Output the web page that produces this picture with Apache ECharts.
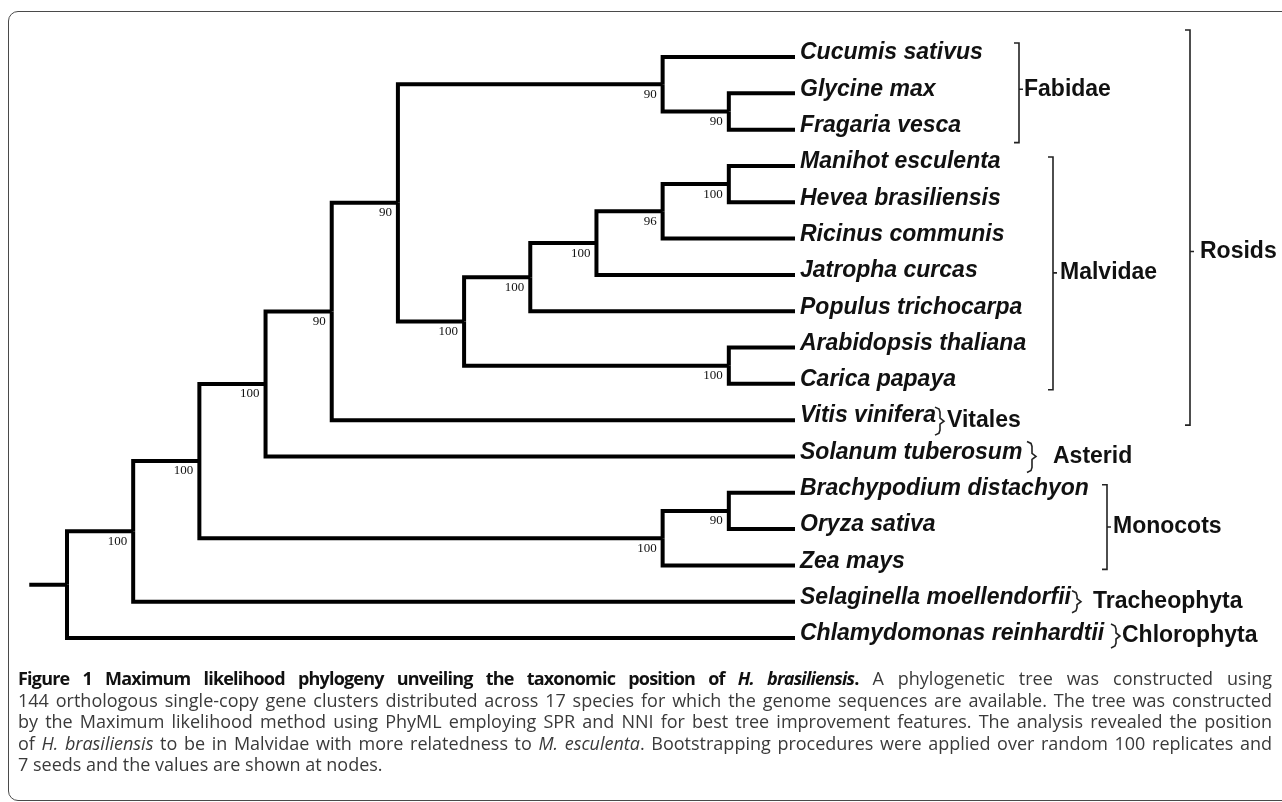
<!DOCTYPE html>
<html>
<head>
<meta charset="utf-8">
<script src="https://cdn.jsdelivr.net/npm/echarts@6/dist/echarts.min.js"></script>
<style>
html, body { margin: 0; padding: 0; background: #fff; }
#wrap { position: relative; width: 1282px; height: 802px; overflow: hidden; }
#frame { position: absolute; left: 8px; top: 11px; width: 1300px; height: 788px; border: 1.5px solid #4a4a4a; border-radius: 10px; }
#chart { position: absolute; left: 0; top: 0; width: 1282px; height: 802px; }
#caption { position: absolute; left: 18px; top: 668px; width: 1254px; font-family: 'Open Sans', sans-serif; font-size: 18px; line-height: 21.5px; color: #3a3a3a; }
#caption div { text-align: justify; text-align-last: justify; }
#caption div.last { text-align-last: left; }
#caption b { color: #111; letter-spacing: -0.8px; }
</style>
</head>
<body>
<div id="wrap">
  <div id="frame"></div>
  <div id="chart"></div>
  <div id="caption">
    <div><b>Figure 1 Maximum likelihood phylogeny unveiling the taxonomic position of <i>H. brasiliensis</i>.</b> A phylogenetic tree was constructed using</div>
    <div>144 orthologous single-copy gene clusters distributed across 17 species for which the genome sequences are available. The tree was constructed</div>
    <div>by the Maximum likelihood method using PhyML employing SPR and NNI for best tree improvement features. The analysis revealed the position</div>
    <div>of <i>H. brasiliensis</i> to be in Malvidae with more relatedness to <i>M. esculenta</i>. Bootstrapping procedures were applied over random 100 replicates and</div>
    <div class="last">7 seeds and the values are shown at nodes.</div>
  </div>
</div>
<script>
// leaves, top to bottom
const species = [
  'Cucumis sativus', 'Glycine max', 'Fragaria vesca', 'Manihot esculenta',
  'Hevea brasiliensis', 'Ricinus communis', 'Jatropha curcas', 'Populus trichocarpa',
  'Arabidopsis thaliana', 'Carica papaya', 'Vitis vinifera', 'Solanum tuberosum',
  'Brachypodium distachyon', 'Oryza sativa', 'Zea mays',
  'Selaginella moellendorfii', 'Chlamydomonas reinhardtii'
]

// internal nodes: numbers in children = species index, strings = node id
const nodeIds      = ['root', 'n1', 'n2', 'n3', 'n4', 'n5', 'n6', 'n7', 'n8', 'n9', 'n10', 'n11', 'n12', 'n13', 'n14', 'n15']
const nodeDepth    = [0, 1, 2, 3, 4, 5, 6, 7, 8, 9, 10, 9, 10, 10, 9, 10]
const nodeChildren = [
  ['n1', 16], ['n2', 15], ['n3', 'n14'], ['n4', 11], ['n5', 10], ['n11', 'n6'],
  ['n7', 'n13'], ['n8', 7], ['n9', 6], ['n10', 5], [3, 4], [0, 'n12'], [1, 2],
  [8, 9], ['n15', 14], [12, 13]
]
const nodeSupport  = [null, 100, 100, 100, 90, 90, 100, 100, 100, 96, 100, 90, 90, 100, 100, 90]
const leafDepth = 11
const rootStub = 0.57

// clade brackets on the right
const groupNames = ['Fabidae', 'Malvidae', 'Rosids', 'Vitales', 'Asterid', 'Monocots', 'Tracheophyta', 'Chlorophyta']
const groupFirst = [0, 3, 0, 10, 11, 12, 15, 16]
const groupLast  = [2, 9, 10, 10, 11, 14, 15, 16]

// drawing layout for the brackets (pixels)
const groupLayout = {
  Fabidae:      { kind: 'square', x: 1019, top: -14, bottom: 13, tick: -4, gap: 5 },
  Malvidae:     { kind: 'square', x: 1053, top: -9, bottom: 6, tick: -2, gap: 7 },
  Rosids:       { kind: 'square', x: 1190, top: -27, bottom: 5, tick: 13, gap: 10 },
  Vitales:      { kind: 'brace', x: 940, top: -13, bottom: 15, tick: 1, gap: 7 },
  Asterid:      { kind: 'brace', x: 1032, top: -15, bottom: 16, tick: 0, gap: 21 },
  Monocots:     { kind: 'square', x: 1107, top: -8, bottom: 4, tick: -2, gap: 6 },
  Tracheophyta: { kind: 'brace', x: 1077, top: -11, bottom: 11, tick: 0, gap: 16 },
  Chlorophyta:  { kind: 'brace', x: 1116, top: -14, bottom: 10, tick: -2, gap: 6 }
}

// work out node y (leaf index units) from the children
const nodeY = {}
const yOf = (c) => {
  if (typeof c === 'number') return c
  if (nodeY[c] !== undefined) return nodeY[c]
  const k = nodeIds.indexOf(c)
  const ch = nodeChildren[k]
  nodeY[c] = (yOf(ch[0]) + yOf(ch[ch.length - 1])) / 2
  return nodeY[c]
}
const depthOf = (c) => typeof c === 'number' ? leafDepth : nodeDepth[nodeIds.indexOf(c)]

const edges = []
nodeIds.forEach((id, k) => {
  nodeChildren[k].forEach(c => {
    edges.push([nodeDepth[k], yOf(id), depthOf(c), yOf(c)])
  })
})
edges.push([-rootStub, yOf('root'), 0, yOf('root')])

const leafPoints = species.map((s, i) => [leafDepth, i, s])
const supportPoints = nodeIds
  .map((id, k) => [nodeDepth[k], yOf(id), nodeSupport[k]])
  .filter(p => p[2] !== null)
const groupData = groupNames.map((g, i) => [groupFirst[i], groupLast[i], i])

const chart = echarts.init(document.getElementById('chart'))

const option = {
  animation: false,
  grid: { left: 67, top: 57, width: 728, height: 581 },
  xAxis: { type: 'value', min: 0, max: leafDepth, show: false },
  yAxis: { type: 'value', min: 0, max: 16, inverse: true, show: false },
  series: [
    {
      type: 'custom',
      name: 'branches',
      silent: true,
      data: edges,
      encode: { x: [0, 2], y: [1, 3] },
      renderItem: (params, api) => {
        const p0 = api.coord([api.value(0), api.value(1)])
        const p1 = api.coord([api.value(0), api.value(3)])
        const p2 = api.coord([api.value(2), api.value(3)])
        return {
          type: 'polyline',
          shape: { points: [p0, p1, p2] },
          style: { stroke: '#000', lineWidth: 4, fill: null, lineJoin: 'miter' }
        }
      }
    },
    {
      type: 'scatter',
      name: 'species',
      silent: true,
      symbolSize: 0,
      itemStyle: { opacity: 1 },
      data: leafPoints,
      label: {
        show: true,
        position: 'right',
        distance: 5,
        offset: [0, -4],
        formatter: p => p.data[2],
        fontFamily: 'Liberation Sans',
        fontStyle: 'italic',
        fontWeight: 'bold',
        fontSize: 23,
        color: '#111'
      }
    },
    {
      type: 'scatter',
      name: 'bootstrap',
      silent: true,
      symbolSize: 0,
      itemStyle: { opacity: 1 },
      data: supportPoints,
      label: {
        show: true,
        position: 'left',
        distance: 6,
        offset: [0, 10],
        formatter: p => String(p.data[2]),
        fontFamily: 'Liberation Serif',
        fontSize: 13,
        color: '#111'
      }
    },
    {
      type: 'custom',
      name: 'clades',
      silent: true,
      data: groupData,
      encode: { y: [0, 1] },
      renderItem: (params, api) => {
        const name = groupNames[api.value(2)]
        const lay = groupLayout[name]
        const yA = api.coord([0, api.value(0)])[1]
        const yB = api.coord([0, api.value(1)])[1]
        const top = yA + lay.top
        const bot = yB + lay.bottom
        const mid = (yA + yB) / 2 + lay.tick
        const x = lay.x
        let pts
        if (lay.kind === 'square') {
          pts = [[x - 5, top], [x, top], [x, mid], [x + 4, mid], [x, mid], [x, bot], [x - 5, bot]]
        } else {
          pts = [[x - 5, top], [x - 1, top + 2], [x, top + 5], [x, mid - 3], [x + 4, mid], [x, mid + 3], [x, bot - 5], [x - 1, bot - 2], [x - 5, bot]]
        }
        return {
          type: 'group',
          children: [
            {
              type: 'polyline',
              shape: { points: pts },
              style: { stroke: '#222', lineWidth: 1.6, fill: null }
            },
            {
              type: 'text',
              style: {
                text: name,
                x: x + lay.gap,
                y: mid,
                verticalAlign: 'middle',
                align: 'left',
                font: 'bold 23px "Liberation Sans"',
                fill: '#111'
              }
            }
          ]
        }
      }
    }
  ]
}

chart.setOption(option)
</script>
</body>
</html>
